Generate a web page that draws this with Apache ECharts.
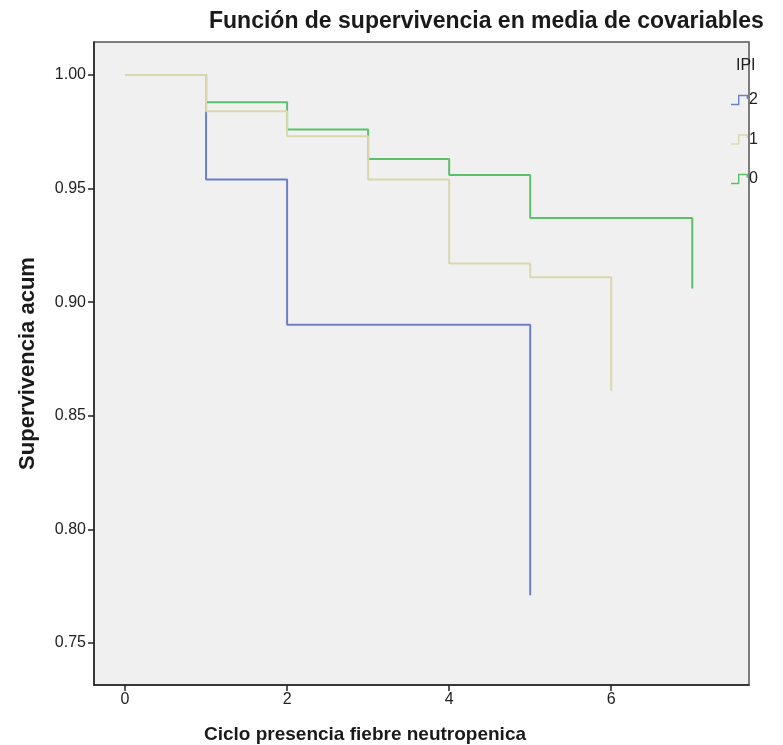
<!DOCTYPE html>
<html>
<head>
<meta charset="utf-8">
<script src="https://cdn.jsdelivr.net/npm/echarts@6/dist/echarts.min.js"></script>
<style>
  html, body { margin: 0; padding: 0; background: #ffffff; }
  #chart { width: 783px; height: 745px; }
</style>
</head>
<body>
<div id="chart"></div>
<script>
// Survival at covariate means, by IPI group (cycle, cumulative survival)
const ipi2 = [[0, 1.000], [1, 0.954], [2, 0.890], [5, 0.771]];
const ipi1 = [[0, 1.000], [1, 0.984], [2, 0.973], [3, 0.954], [4, 0.917], [5, 0.911], [6, 0.861]];
const ipi0 = [[0, 1.000], [1, 0.988], [2, 0.976], [3, 0.963], [4, 0.956], [5, 0.937], [7, 0.906]];

const xTicks = [0, 2, 4, 6];
const yTicks = [0.75, 0.80, 0.85, 0.90, 0.95, 1.00];

const legendNames = ['2', '1', '0'];
const colors = { '2': '#6b7fc6', '1': '#d9d8ac', '0': '#5cbf6c' };

const FONT = 'Liberation Sans, Arial, sans-serif';
const stepIcon = 'path://M0,9 L7,9 L7,0 L17,0 L17,4 L15.6,4 L15.6,1.4 L8.4,1.4 L8.4,10.4 L0,10.4 Z';

function stepSeries(name, data, z) {
  return {
    name: name,
    type: 'line',
    step: 'end',
    data: data,
    symbol: 'none',
    z: z,
    color: colors[name],
    lineStyle: { width: 2, color: colors[name] },
    emphasis: { disabled: true }
  };
}

const chart = echarts.init(document.getElementById('chart'), null, { renderer: 'canvas' });
chart.setOption({
  animation: false,
  backgroundColor: '#ffffff',
  textStyle: { fontFamily: FONT },
  title: {
    text: 'Función de supervivencia en media de covariables',
    left: 204,
    top: 5,
    textStyle: { fontFamily: FONT, fontSize: 23, fontWeight: 'bold', color: '#1a1a1a' }
  },
  grid: {
    left: 94, top: 42, right: 34, bottom: 60,
    show: true,
    backgroundColor: '#f0f0f0',
    borderColor: '#555555',
    borderWidth: 1.5
  },
  legend: {
    data: legendNames,
    orient: 'vertical',
    left: 726,
    top: 87,
    itemWidth: 17,
    itemHeight: 11,
    itemGap: 23.5,
    icon: stepIcon,
    textStyle: { fontFamily: FONT, fontSize: 16, color: '#222', padding: [0, 0, 0, -4] },
    selectedMode: false
  },
  graphic: [
    {
      type: 'text',
      left: 736,
      top: 58,
      style: { text: 'IPI', font: '16px ' + FONT, fill: '#222' }
    },
    {
      type: 'text',
      x: 365,
      y: 735,
      style: {
        text: 'Ciclo presencia fiebre neutropenica',
        font: 'bold 19px ' + FONT,
        fill: '#1a1a1a',
        align: 'center',
        verticalAlign: 'middle'
      }
    }
  ],
  xAxis: {
    type: 'value',
    min: -0.383,
    max: 7.70,
    splitLine: { show: false },
    axisLine: { show: true, onZero: false, lineStyle: { color: '#222', width: 1.5 } },
    axisTick: { show: true, length: 6, customValues: xTicks, lineStyle: { color: '#222', width: 1.5 } },
    axisLabel: {
      customValues: xTicks,
      fontSize: 16,
      color: '#222',
      margin: 7,
      fontFamily: FONT
    }
  },
  yAxis: {
    type: 'value',
    min: 0.7315,
    max: 1.0145,
    name: 'Supervivencia acum',
    nameLocation: 'middle',
    nameGap: 55,
    nameTextStyle: { fontFamily: FONT, fontSize: 22, fontWeight: 'bold', color: '#1a1a1a' },
    splitLine: { show: false },
    axisLine: { show: true, onZero: false, lineStyle: { color: '#222', width: 1.5 } },
    axisTick: { show: true, length: 6, customValues: yTicks, lineStyle: { color: '#222', width: 1.5 } },
    axisLabel: {
      customValues: yTicks,
      fontSize: 16,
      color: '#222',
      margin: 8,
      fontFamily: FONT,
      formatter: v => v.toFixed(2)
    }
  },
  series: [
    stepSeries('2', ipi2, 2),
    stepSeries('0', ipi0, 3),
    stepSeries('1', ipi1, 4)
  ]
});
</script>
</body>
</html>
